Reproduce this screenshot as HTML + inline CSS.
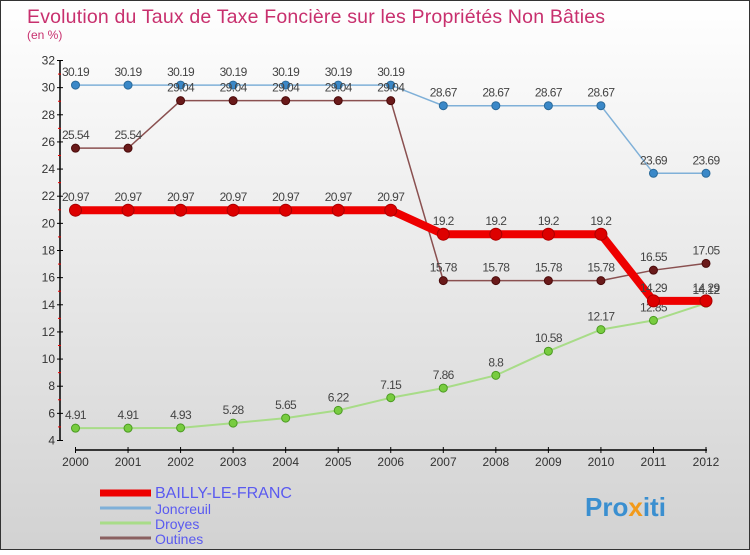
<!DOCTYPE html>
<html><head><meta charset="utf-8"><style>
body{margin:0;width:750px;height:550px;overflow:hidden;font-family:"Liberation Sans",sans-serif}
</style></head><body>
<svg width="750" height="550" xmlns="http://www.w3.org/2000/svg">
<defs><linearGradient id="bg" x1="0" y1="0" x2="0" y2="1"><stop offset="0" stop-color="#ffffff"/><stop offset="1" stop-color="#d2d2d2"/></linearGradient></defs>
<rect x="0.5" y="0.5" width="749" height="549" fill="url(#bg)" stroke="#333"/>
<text x="27" y="23" font-size="19.5" fill="#c8306e" textLength="578">Evolution du Taux de Taxe Foncière sur les Propriétés Non Bâties</text>
<text x="27" y="39" font-size="12" fill="#c8306e">(en %)</text>
<g id="axes"></g><g id="series"></g><g id="legend"></g>
<text x="585" y="516" font-size="26" font-weight="bold" fill="#3a8fd0">Pro<tspan fill="#f29a1a">x</tspan>iti</text>
</svg>
<script>
const years=[2000,2001,2002,2003,2004,2005,2006,2007,2008,2009,2010,2011,2012];
const bailly=[20.97,20.97,20.97,20.97,20.97,20.97,20.97,19.2,19.2,19.2,19.2,14.29,14.29];
const joncreuil=[30.19,30.19,30.19,30.19,30.19,30.19,30.19,28.67,28.67,28.67,28.67,23.69,23.69];
const droyes=[4.91,4.91,4.93,5.28,5.65,6.22,7.15,7.86,8.8,10.58,12.17,12.85,14.12];
const outines=[25.54,25.54,29.04,29.04,29.04,29.04,29.04,15.78,15.78,15.78,15.78,16.55,17.05];
const yTicks=[4,6,8,10,12,14,16,18,20,22,24,26,28,30,32];
const NS="http://www.w3.org/2000/svg";
const X=i=>75.5+i*(706-75.5)/12;
const Y=v=>440.5-(v-4)*(380/28);
function mk(t,a,p){const e=document.createElementNS(NS,t);for(const k in a)e.setAttribute(k,a[k]);p.appendChild(e);return e;}
const ax=document.getElementById('axes');
let l=mk('line',{x1:60,y1:Y(32),x2:60,y2:Y(4),stroke:'#000','stroke-width':1.5},ax);


l=mk('line',{x1:75,y1:450,x2:707,y2:450,stroke:'#000','stroke-width':1.5},ax);


yTicks.forEach(v=>{
 mk('line',{x1:57,y1:Y(v),x2:63,y2:Y(v),stroke:'#000'},ax);
 if(v<32)mk('line',{x1:58,y1:Y(v+1),x2:61,y2:Y(v+1),stroke:'#e00'},ax);
 const t=mk('text',{x:55,y:Y(v)+4,'font-size':12,'text-anchor':'end',fill:'#333'},ax);
 t.textContent=v;
 
 
});
years.forEach((y,i)=>{
 mk('line',{x1:X(i),y1:447,x2:X(i),y2:453,stroke:'#000'},ax);
 const t=mk('text',{x:X(i),y:466,'font-size':12,'text-anchor':'middle',fill:'#333'},ax);
 t.textContent=y;
 
 
});
const sg=document.getElementById('series');
function draw(arr,color,w,dot,dotStroke,r,name){
 const g=mk('g',{},sg);
 
 
 const p=mk('polyline',{points:arr.map((v,i)=>X(i)+','+Y(v)).join(' '),fill:'none',stroke:color,'stroke-width':w},g);
 
 
 arr.forEach((v,i)=>{
  const c=mk('circle',{cx:X(i),cy:Y(v),r:r,fill:dot,stroke:dotStroke},g);
  
  
  const t=mk('text',{x:X(i),y:Y(v)-9,'font-size':12,'text-anchor':'middle',fill:'#444','letter-spacing':'-0.6'},g);
  t.textContent=v;
  
  
 });
}
draw(joncreuil,'#7fb0d8',1.5,'#3a88c8','#2a6a9a',4,'joncreuil');
draw(outines,'#8a5050',1.5,'#6a1a1a','#4a0a0a',4,'outines');
draw(droyes,'#a8dc88',2,'#78cc40','#4a9a20',4,'droyes');
draw(bailly,'#ee0000',8,'#dd0000','#aa0000',6,'bailly-le-franc');
const lg=document.getElementById('legend');
const items=[['BAILLY-LE-FRANC','#ee0000',7,16],['Joncreuil','#7fb0d8',3,14],['Droyes','#a8dc88',3,14],['Outines','#8a6060',3,14]];
const ly=[492,508,523,538];
items.forEach((it,i)=>{
 const g=mk('g',{},lg);
 
 
 mk('line',{x1:100,y1:ly[i]+(i==0?1:0),x2:151,y2:ly[i]+(i==0?1:0),stroke:it[1],'stroke-width':it[2]},g);
 const t=mk('text',{x:155,y:ly[i]+6,'font-size':it[3],fill:'#5a5af0'},g);
 t.textContent=it[0];
 
 
});
</script>
</body></html>
